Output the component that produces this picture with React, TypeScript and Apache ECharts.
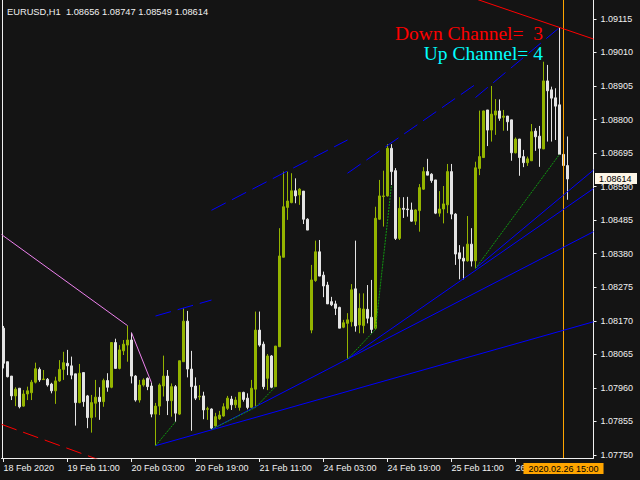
import React, { useEffect, useRef } from 'react';
import * as echarts from 'echarts';

const symbol = 'EURUSD';
const timeframe = 'H1';

// Hourly bars from 18 Feb 2020 19:00 to 26 Feb 2020 16:00
const open = [
  1.08147, 1.08042, 1.07997, 1.07935, 1.07959, 1.07903, 1.07941, 1.07945, 1.07978, 1.08018,
  1.07986, 1.07987, 1.07972, 1.07951, 1.07982, 1.08018, 1.08037, 1.08029, 1.08004, 1.07914,
  1.08008, 1.07935, 1.07867, 1.07912, 1.07931, 1.07917, 1.07983, 1.07962, 1.08102, 1.08021,
  1.08076, 1.08094, 1.08110, 1.07997, 1.07922, 1.07969, 1.07990, 1.07966, 1.07878, 1.07903,
  1.07966, 1.07997, 1.07920, 1.07964, 1.07878, 1.08042, 1.08169, 1.08019, 1.07966, 1.07932,
  1.07935, 1.07893, 1.07894, 1.07841, 1.07863, 1.07872, 1.07896, 1.07925, 1.07907, 1.07899,
  1.07946, 1.07928, 1.07899, 1.07956, 1.08141, 1.08097, 1.07990, 1.08060, 1.07964, 1.08089,
  1.08369, 1.08525, 1.08540, 1.08577, 1.08564, 1.08576, 1.08488, 1.08141, 1.08296, 1.08386,
  1.08313, 1.08282, 1.08230, 1.08223, 1.08212, 1.08150, 1.08162, 1.08167, 1.08270, 1.08157,
  1.08155, 1.08206, 1.08181, 1.08147, 1.08488, 1.08559, 1.08561, 1.08710, 1.08640, 1.08428,
  1.08522, 1.08520, 1.08517, 1.08482, 1.08515, 1.08582, 1.08637, 1.08629, 1.08611, 1.08507,
  1.08520, 1.08533, 1.08637, 1.08504, 1.08383, 1.08366, 1.08358, 1.08410, 1.08358, 1.08647,
  1.08681, 1.08830, 1.08767, 1.08814, 1.08827, 1.08807, 1.08811, 1.08799, 1.08696, 1.08739,
  1.08684, 1.08665, 1.08671, 1.08764, 1.08748, 1.08708, 1.08921, 1.08893, 1.08868, 1.08846,
  1.08691, 1.08656,
];
const high = [
  1.08154, 1.08042, 1.07997, 1.07962, 1.07959, 1.07953, 1.07964, 1.07985, 1.08039, 1.08024,
  1.08016, 1.07991, 1.07976, 1.07995, 1.08047, 1.08073, 1.08079, 1.08058, 1.08004, 1.08035,
  1.08008, 1.07938, 1.07938, 1.07985, 1.07962, 1.07989, 1.08006, 1.08102, 1.08114, 1.08094,
  1.08110, 1.08155, 1.08133, 1.08000, 1.07985, 1.07990, 1.07993, 1.07976, 1.07913, 1.07974,
  1.08061, 1.08016, 1.07974, 1.07969, 1.08045, 1.08209, 1.08201, 1.08076, 1.07993, 1.07969,
  1.07948, 1.07901, 1.07896, 1.07882, 1.07888, 1.07912, 1.07935, 1.07935, 1.07932, 1.07947,
  1.07948, 1.07943, 1.07985, 1.08199, 1.08199, 1.08105, 1.08066, 1.08063, 1.08091, 1.08460,
  1.08637, 1.08637, 1.08632, 1.08616, 1.08585, 1.08576, 1.08491, 1.08345, 1.08421, 1.08423,
  1.08324, 1.08292, 1.08245, 1.08233, 1.08214, 1.08173, 1.08194, 1.08285, 1.08421, 1.08256,
  1.08256, 1.08282, 1.08298, 1.08527, 1.08611, 1.08640, 1.08723, 1.08723, 1.08648, 1.08557,
  1.08557, 1.08558, 1.08540, 1.08519, 1.08598, 1.08651, 1.08677, 1.08632, 1.08611, 1.08576,
  1.08592, 1.08661, 1.08661, 1.08507, 1.08407, 1.08402, 1.08498, 1.08460, 1.08668, 1.08828,
  1.08828, 1.08830, 1.08905, 1.08864, 1.08863, 1.08830, 1.08811, 1.08799, 1.08744, 1.08739,
  1.08705, 1.08684, 1.08786, 1.08773, 1.08780, 1.08981, 1.08971, 1.08903, 1.08898, 1.09087,
  1.08705, 1.08747,
];
const low = [
  1.08021, 1.07993, 1.07922, 1.07903, 1.07896, 1.07901, 1.07922, 1.07922, 1.07974, 1.07979,
  1.07985, 1.07964, 1.07943, 1.07910, 1.07979, 1.07985, 1.08000, 1.07987, 1.07842, 1.07912,
  1.07901, 1.07834, 1.07820, 1.07868, 1.07860, 1.07901, 1.07948, 1.07959, 1.08021, 1.08018,
  1.08063, 1.08042, 1.07974, 1.07917, 1.07914, 1.07964, 1.07953, 1.07868, 1.07779, 1.07875,
  1.07933, 1.07875, 1.07870, 1.07854, 1.07875, 1.08042, 1.07993, 1.07826, 1.07922, 1.07922,
  1.07862, 1.07860, 1.07830, 1.07839, 1.07860, 1.07870, 1.07891, 1.07891, 1.07897, 1.07889,
  1.07917, 1.07893, 1.07896, 1.07899, 1.08089, 1.07956, 1.07953, 1.07959, 1.07964, 1.08089,
  1.08369, 1.08486, 1.08538, 1.08538, 1.08533, 1.08473, 1.08454, 1.08131, 1.08292, 1.08310,
  1.08244, 1.08223, 1.08216, 1.08188, 1.08147, 1.08147, 1.08050, 1.08152, 1.08136, 1.08131,
  1.08131, 1.08162, 1.08131, 1.08143, 1.08486, 1.08465, 1.08559, 1.08595, 1.08423, 1.08423,
  1.08492, 1.08496, 1.08480, 1.08470, 1.08449, 1.08580, 1.08626, 1.08602, 1.08504, 1.08496,
  1.08475, 1.08507, 1.08488, 1.08345, 1.08300, 1.08300, 1.08355, 1.08340, 1.08334, 1.08626,
  1.08681, 1.08717, 1.08731, 1.08752, 1.08796, 1.08765, 1.08765, 1.08671, 1.08694, 1.08624,
  1.08651, 1.08655, 1.08671, 1.08702, 1.08652, 1.08708, 1.08731, 1.08731, 1.08736, 1.08691,
  1.08636, 1.08549,
];
const close = [
  1.08037, 1.07995, 1.07935, 1.07956, 1.07901, 1.07941, 1.07951, 1.07978, 1.08020, 1.07985,
  1.07988, 1.07969, 1.07951, 1.07982, 1.08018, 1.08039, 1.08029, 1.08000, 1.07914, 1.08006,
  1.07917, 1.07867, 1.07914, 1.07931, 1.07917, 1.07983, 1.07962, 1.08102, 1.08021, 1.08079,
  1.08097, 1.08110, 1.07997, 1.07922, 1.07969, 1.07985, 1.07964, 1.07878, 1.07903, 1.07969,
  1.07997, 1.07920, 1.07964, 1.07881, 1.08045, 1.08169, 1.08019, 1.07964, 1.07928, 1.07934,
  1.07891, 1.07895, 1.07834, 1.07870, 1.07875, 1.07901, 1.07928, 1.07907, 1.07922, 1.07946,
  1.07924, 1.07899, 1.07959, 1.08141, 1.08094, 1.07964, 1.08060, 1.07962, 1.08091, 1.08373,
  1.08527, 1.08545, 1.08577, 1.08561, 1.08582, 1.08488, 1.08454, 1.08298, 1.08386, 1.08310,
  1.08279, 1.08223, 1.08220, 1.08209, 1.08147, 1.08164, 1.08173, 1.08267, 1.08154, 1.08209,
  1.08207, 1.08178, 1.08143, 1.08491, 1.08561, 1.08561, 1.08710, 1.08637, 1.08428, 1.08522,
  1.08519, 1.08518, 1.08482, 1.08517, 1.08587, 1.08637, 1.08626, 1.08609, 1.08507, 1.08520,
  1.08536, 1.08637, 1.08504, 1.08379, 1.08364, 1.08357, 1.08410, 1.08357, 1.08649, 1.08684,
  1.08827, 1.08767, 1.08817, 1.08827, 1.08804, 1.08811, 1.08793, 1.08696, 1.08739, 1.08681,
  1.08665, 1.08677, 1.08762, 1.08746, 1.08710, 1.08921, 1.08890, 1.08867, 1.08842, 1.08691,
  1.08656, 1.08614,
];

// Time scale labels every 16 bars
const tickBars = [0, 16, 32, 48, 64, 80, 96, 112, 128];
const tickLabels = [
  '18 Feb 2020', '19 Feb 11:00', '20 Feb 03:00', '20 Feb 19:00', '21 Feb 11:00',
  '24 Feb 03:00', '24 Feb 19:00', '25 Feb 11:00', '26 Feb 03:00',
];
// Price scale labels
const priceTicks = [
  1.0775, 1.07855, 1.0796, 1.08065, 1.0817, 1.08275, 1.0838,
  1.08485, 1.0859, 1.08695, 1.088, 1.08905, 1.0901, 1.09115,
];

// Crosshair bar
const cursorBar = 140;
const cursorTime = '2020.02.26 15:00';

// Channel counters
const downChannels = 3;
const upChannels = 4;

// Up-channel support lines [bar, price]
const support1 = [[38, 1.07779], [147.5, 1.08167]];
const support2 = [[52, 1.0783], [147.5, 1.08449]];
const support3 = [[86, 1.0805], [147.5, 1.08584]];
const support4 = [[118, 1.08334], [147.5, 1.08642]];
// Up-channel parallel (upper) lines
const upper1 = [[38, 1.08185], [52, 1.08235]];
const upper2 = [[52, 1.08516], [86, 1.08736]];
const upper3 = [[86, 1.08632], [118, 1.0891]];
const upper4 = [[118, 1.08869], [139, 1.09088]];
// Down-channel lines
const downTop = [[110, 1.09212], [147.5, 1.09052]];
const downBottom = [[-0.5, 1.07846], [30, 1.07707]];
// Falling trend lines through highs
const fall1 = [[-0.5, 1.0844], [31, 1.08155]];
const fall2 = [[32, 1.08133], [37, 1.07976]];
// Swing-low legs
const swing1 = [[38, 1.07779], [43, 1.07854]];
const swing2 = [[52, 1.0783], [63, 1.07899], [68, 1.07964]];
const swing3 = [[86, 1.0805], [93, 1.08143], [97, 1.08595]];
const swing4 = [[118, 1.08334], [139, 1.08691]];

const slotCount = 148; // bars plus empty space on the right
const yMin = 1.077406;
const yMax = 1.091742;

const BULL = '#94b400';
const BEAR = '#e4e4e4';
const BG = '#141414';
const FG = '#f0f0f0';
const SWING = '#109a10';
const FONT = '"Liberation Sans", Arial, sans-serif';

export default function App() {
  const ref = useRef<HTMLDivElement>(null);

  useEffect(() => {
    document.body.style.margin = '0';
    const chart = echarts.init(ref.current as HTMLDivElement, null, { renderer: 'svg' });
    const last = close.length - 1;
    const candles = open.map((o, i) => [o, close[i], low[i], high[i]]);
    const slots = Array.from({ length: slotCount }, (_, i) => String(i));

    const seg = (data: number[][], color: string, type: any = 'solid', z = 5) => ({
      type: 'line',
      xAxisIndex: 1,
      yAxisIndex: 0,
      data,
      symbol: 'none',
      showSymbol: false,
      silent: true,
      clip: true,
      z,
      lineStyle: { color, width: 1, type },
    });
    const dash = [16, 7];
    const dots = [2, 1];

    const graphics: any[] = [
      {
        type: 'line',
        shape: { x1: 2.5, y1: 0, x2: 2.5, y2: 458 },
        style: { stroke: FG, lineWidth: 1 },
        silent: true,
      },
      {
        type: 'text',
        x: 7,
        y: 11.5,
        silent: true,
        style: {
          text: `${symbol},${timeframe}\u00a0\u00a0${open[last].toFixed(5)} ${high[last].toFixed(5)} ${low[last].toFixed(5)} ${close[last].toFixed(5)}`,
          fill: FG,
          font: `9.3px ${FONT}`,
          align: 'left',
          verticalAlign: 'middle',
          textAlign: 'left',
          textVerticalAlign: 'middle',
        },
      },
      {
        type: 'text',
        x: 543,
        y: 33,
        silent: true,
        style: {
          text: `Down Channel=\u00a0\u00a0${downChannels}`,
          fill: '#ff0000',
          font: '19.5px "Liberation Serif", "Times New Roman", serif',
          align: 'right',
          verticalAlign: 'middle',
          textAlign: 'right',
          textVerticalAlign: 'middle',
        },
      },
      {
        type: 'text',
        x: 543,
        y: 53,
        silent: true,
        style: {
          text: `Up Channel=\u00a0${upChannels}`,
          fill: '#00ffff',
          font: '19.5px "Liberation Serif", "Times New Roman", serif',
          align: 'right',
          verticalAlign: 'middle',
          textAlign: 'right',
          textVerticalAlign: 'middle',
        },
      },
    ];

    chart.setOption({
      animation: false,
      backgroundColor: BG,
      grid: { left: 1.5, top: 0, width: 592, height: 458, containLabel: false },
      xAxis: [
        { type: 'category', data: slots, boundaryGap: true, show: false, position: 'bottom' },
        {
          type: 'value',
          min: -0.5,
          max: 147.5,
          position: 'bottom',
          axisLine: { show: true, onZero: false, lineStyle: { color: FG, width: 1 } },
          axisTick: { show: true, length: 4, customValues: tickBars, lineStyle: { color: FG } },
          axisLabel: {
            customValues: tickBars,
            formatter: (v: number) => tickLabels[tickBars.indexOf(v)] ?? '',
            align: 'left',
            color: FG,
            fontSize: 9,
            fontFamily: FONT,
            margin: 5,
          },
          splitLine: { show: false },
        },
      ],
      yAxis: {
        type: 'value',
        position: 'right',
        min: yMin,
        max: yMax,
        axisLine: { show: true, onZero: false, lineStyle: { color: FG, width: 1 } },
        axisTick: { show: true, length: 3, customValues: priceTicks, lineStyle: { color: FG } },
        axisLabel: {
          customValues: priceTicks,
          formatter: (v: number) => v.toFixed(5),
          align: 'left',
          color: FG,
          fontSize: 9,
          fontFamily: FONT,
          margin: 7,
        },
        splitLine: { show: false },
      },
      series: [
        {
          type: 'candlestick',
          xAxisIndex: 0,
          yAxisIndex: 0,
          data: candles,
          barWidth: 2,
          silent: true,
          itemStyle: {
            color: BULL,
            color0: BEAR,
            borderColor: BULL,
            borderColor0: BEAR,
            borderWidth: 1,
          },
          z: 2,
        },
        seg(support1, '#0000ff'),
        seg(support2, '#0000ff'),
        seg(support3, '#0000ff'),
        seg(support4, '#0000ff'),
        seg(upper1, '#0000ff', dash),
        seg(upper2, '#0000ff', dash),
        seg(upper3, '#0000ff', dash),
        seg(upper4, '#0000ff', dash),
        seg(downTop, '#ff0000'),
        seg(downBottom, '#ff0000', dash),
        seg(fall1, '#ee82ee'),
        seg(fall2, '#ee82ee'),
        seg(swing1, SWING, dots),
        seg(swing2, SWING, dots),
        seg(swing3, SWING, dots),
        {
          ...seg(swing4, SWING, dots),
          // crosshair at the selected bar with its time tag
          markLine: {
            silent: true,
            symbol: ['none', 'none'],
            lineStyle: { color: '#ffa500', width: 1, type: 'solid' },
            label: {
              show: true,
              position: 'start',
              formatter: () => cursorTime,
              color: '#000',
              backgroundColor: '#ffa500',
              fontSize: 9,
              fontFamily: FONT,
              lineHeight: 11,
              padding: [0, 5],
              distance: 5,
            },
            data: [{ xAxis: cursorBar }],
          },
        },
      ],
      graphic: graphics,
    });

    // last price tag on the price scale, placed through the y axis scale
    const py = chart.convertToPixel({ yAxisIndex: 0 }, close[last]) as number;
    graphics.push({
      type: 'group',
      silent: true,
      z: 10,
      children: [
        {
          type: 'rect',
          shape: { x: 595, y: Math.round(py) - 6, width: 42, height: 11 },
          style: { fill: '#fdf5e6' },
        },
        {
          type: 'text',
          x: 599,
          y: Math.round(py) - 0.5,
          style: {
            text: close[last].toFixed(5),
            fill: '#000',
            font: `9px ${FONT}`,
            align: 'left',
            verticalAlign: 'middle',
            textAlign: 'left',
            textVerticalAlign: 'middle',
          },
        },
      ],
    });
    chart.setOption({ graphic: graphics });

    return () => chart.dispose();
  }, []);

  return <div ref={ref} style={{ width: 640, height: 480 }} />;
}
